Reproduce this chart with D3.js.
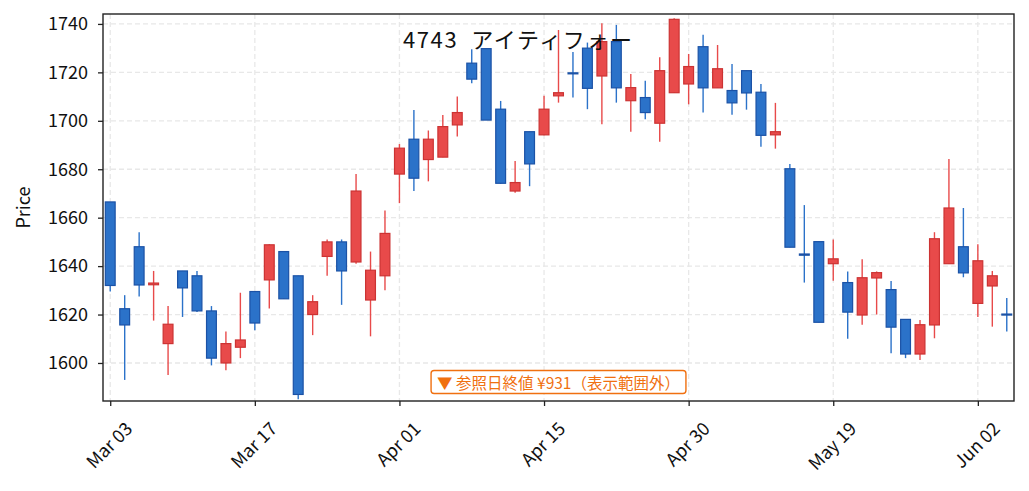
<!DOCTYPE html>
<html>
<head>
<meta charset="utf-8">
<script src="https://cdn.jsdelivr.net/npm/d3@7"></script>
<style>
  body { margin: 0; background: #fff; }
  text { font-family: "Noto Sans CJK JP", "Noto Sans", sans-serif; }
</style>
</head>
<body>
<script>
// trading days shown on the chart (index based x axis)
const dates = [
  "Mar 03", "Mar 04", "Mar 05", "Mar 06", "Mar 07", "Mar 10", "Mar 11", "Mar 12", "Mar 13", "Mar 14",
  "Mar 17", "Mar 18", "Mar 19", "Mar 21", "Mar 24", "Mar 25", "Mar 26", "Mar 27", "Mar 28", "Mar 31",
  "Apr 01", "Apr 02", "Apr 03", "Apr 04", "Apr 07", "Apr 08", "Apr 09", "Apr 10", "Apr 11", "Apr 14",
  "Apr 15", "Apr 16", "Apr 17", "Apr 18", "Apr 21", "Apr 22", "Apr 23", "Apr 24", "Apr 25", "Apr 28",
  "Apr 30", "May 01", "May 02", "May 07", "May 08", "May 09", "May 12", "May 13", "May 14", "May 15",
  "May 19", "May 20", "May 21", "May 22", "May 23", "May 26", "May 27", "May 28", "May 29", "May 30",
  "Jun 02", "Jun 03", "Jun 04"
];
const openP = [
  1666.5, 1622.4, 1648, 1632.3, 1608, 1638, 1636, 1621.5, 1600, 1606.5,
  1629.5, 1634.3, 1646, 1636, 1620, 1644, 1650, 1641.7, 1626, 1636,
  1678, 1692.4, 1684, 1685, 1698.3, 1723.8, 1729.8, 1704.8, 1671, 1695.5,
  1694.2, 1710.3, 1719.8, 1730, 1718.5, 1732.7, 1708.3, 1709.6, 1699, 1711.6,
  1715.2, 1730.6, 1713.6, 1712.5, 1720.7, 1711.8, 1694.2, 1680.2, 1645, 1650.1,
  1641, 1633.2, 1619.8, 1635.1, 1630.3, 1618, 1603.7, 1615.7, 1641, 1648,
  1624.6, 1631.8, 1620.2
];
const highP = [
  1666.5, 1628, 1654, 1638, 1623.5, 1638, 1638, 1623.5, 1613, 1629,
  1629.5, 1649, 1646, 1636, 1628, 1651, 1651, 1678, 1646, 1663,
  1690.4, 1704.5, 1696, 1702.4, 1710, 1729.5, 1729.8, 1708.2, 1683.4, 1695.5,
  1710.3, 1737.5, 1728.4, 1732.3, 1740.3, 1739.6, 1719.3, 1716.5, 1726.2, 1742.3,
  1727.6, 1735.5, 1731.3, 1723.5, 1720.7, 1715.2, 1707.4, 1682.2, 1665.2, 1650.1,
  1651, 1637.8, 1642.8, 1637.8, 1633.8, 1618, 1617.7, 1654, 1684.2, 1664,
  1649, 1638, 1626.8
];
const lowP = [
  1629.5, 1593, 1627.4, 1617.5, 1595, 1619, 1621, 1599, 1597, 1602,
  1613.5, 1622.5, 1626.5, 1585, 1611.5, 1636, 1624, 1641, 1611, 1630,
  1666, 1671, 1675, 1685, 1693.5, 1715.5, 1700.3, 1674, 1670.3, 1673,
  1694, 1707.5, 1709.6, 1704.8, 1698.6, 1707.5, 1695.5, 1700.6, 1691.4, 1711.6,
  1706.8, 1703.4, 1713.6, 1702.5, 1704.6, 1689.3, 1688.5, 1647.8, 1633.2, 1616.8,
  1634, 1610, 1615.8, 1620, 1604, 1602, 1601.2, 1610.2, 1641, 1635.4,
  1619, 1615, 1613
];
const closeP = [
  1632, 1615.7, 1632.2, 1633, 1616, 1631, 1621.5, 1602, 1608, 1609.5,
  1616.5, 1648.8, 1626.5, 1587, 1625.3, 1650, 1638, 1671, 1638.3, 1653.5,
  1688.7, 1676.3, 1692.4, 1697.6, 1703.4, 1717.2, 1700.3, 1674.2, 1674.5, 1682.2,
  1704.8, 1711.6, 1719.4, 1713.4, 1732.7, 1713.6, 1713.7, 1703.4, 1720.7, 1741.9,
  1722.4, 1713.6, 1721.5, 1707.4, 1711.5, 1694, 1695.5, 1647.8, 1644.5, 1616.8,
  1643, 1621, 1635.2, 1637.3, 1614.8, 1603.7, 1615.8, 1651.3, 1664, 1637.2,
  1642.2, 1636, 1619.8
];
const tickIdx = [0, 10, 20, 30, 40, 50, 60];
const yTicks = [1600, 1620, 1640, 1660, 1680, 1700, 1720, 1740];
const title = "4743  アイティフォー";
const note = "▼ 参照日終値 ¥931（表示範囲外）";

const width = 1029, height = 491;
const margin = { top: 14, right: 15, bottom: 90, left: 103 };
const iw = width - margin.left - margin.right;
const ih = height - margin.top - margin.bottom;

const upFill = "#e84a4a", upEdge = "#cc3333";
const downFill = "#2b72c9", downEdge = "#1b52a6";

const svg = d3.select("body").append("svg")
  .attr("width", width)
  .attr("height", height);

const g = svg.append("g")
  .attr("transform", `translate(${margin.left},${margin.top})`);

const x = d3.scaleLinear().domain([-0.5, 62.5]).range([0, iw]);
const y = d3.scaleLinear().domain([1584.3, 1744.1]).range([ih, 0]);

// dashed grid
g.append("g").selectAll("line.gy")
  .data(yTicks).enter().append("line")
  .attr("x1", 0).attr("x2", iw)
  .attr("y1", d => y(d)).attr("y2", d => y(d))
  .attr("stroke", "#e8e8e8").attr("stroke-width", 1.3)
  .attr("stroke-dasharray", "5,3");
g.append("g").selectAll("line.gx")
  .data(tickIdx).enter().append("line")
  .attr("x1", d => x(d)).attr("x2", d => x(d))
  .attr("y1", 0).attr("y2", ih)
  .attr("stroke", "#e8e8e8").attr("stroke-width", 1.3)
  .attr("stroke-dasharray", "5,3");

// candles
const candles = d3.range(dates.length).map(i => ({
  i, o: openP[i], h: highP[i], l: lowP[i], c: closeP[i]
}));
const bw = (x(1) - x(0)) * 0.68;

g.append("g").selectAll("line.wick")
  .data(candles).enter().append("line")
  .attr("x1", d => x(d.i)).attr("x2", d => x(d.i))
  .attr("y1", d => y(d.h)).attr("y2", d => y(d.l))
  .attr("stroke", d => d.c >= d.o ? upFill : downFill)
  .attr("stroke-width", 1.4);

g.append("g").selectAll("rect.body")
  .data(candles).enter().append("rect")
  .attr("x", d => x(d.i) - bw / 2)
  .attr("width", bw)
  .attr("y", d => y(Math.max(d.o, d.c)))
  .attr("height", d => Math.max(1, Math.abs(y(d.o) - y(d.c))))
  .attr("fill", d => d.c >= d.o ? upFill : downFill)
  .attr("stroke", d => d.c >= d.o ? upEdge : downEdge)
  .attr("stroke-width", 1.2);

// axes
const yAxis = g.append("g")
  .call(d3.axisLeft(y).tickValues(yTicks).tickSize(5).tickPadding(10).tickFormat(d3.format("d")));
const xAxis = g.append("g")
  .attr("transform", `translate(0,${ih})`)
  .call(d3.axisBottom(x).tickValues(tickIdx).tickSize(5).tickFormat(d => dates[d]));

[yAxis, xAxis].forEach(a => {
  a.select(".domain").remove();
  a.selectAll(".tick line").attr("stroke", "#222").attr("stroke-width", 1.3);
  a.selectAll(".tick text").attr("fill", "#111").style("font-size", "18px");
});

// rotated date labels, bbox centred under the tick
xAxis.selectAll(".tick text").each(function () {
  const t = d3.select(this);
  t.attr("y", 0).attr("dy", null)
    .attr("text-anchor", "middle")
    .attr("dominant-baseline", "central");
  const w = this.getComputedTextLength();
  const half = (w + 18) / (2 * Math.SQRT2);
  const cy = 17 + half;
  t.attr("transform", `translate(-2.5,${cy}) rotate(-45)`);
});

// frame
g.append("rect")
  .attr("width", iw).attr("height", ih)
  .attr("fill", "none").attr("stroke", "#222").attr("stroke-width", 1.4);

// y label
svg.append("text")
  .attr("transform", `translate(30,${margin.top + ih / 2}) rotate(-90)`)
  .attr("text-anchor", "middle")
  .style("font-size", "18px")
  .attr("fill", "#111")
  .text("Price");

// title
g.append("text")
  .attr("x", 300).attr("y", 34)
  .style("font-size", "22px")
  .style("letter-spacing", "1.6px")
  .style("white-space", "pre")
  .attr("fill", "#111")
  .text(title);

// out-of-range note
const nb = g.append("g").attr("transform", `translate(${iw / 2},${ih - 19})`);
const nt = nb.append("text")
  .attr("text-anchor", "middle")
  .attr("dominant-baseline", "central")
  .style("font-size", "15.5px")
  .attr("fill", "#f07010")
  .text(note);
const tw = nt.node().getComputedTextLength();
nb.insert("rect", "text")
  .attr("x", -tw / 2 - 6).attr("y", -11.5)
  .attr("width", tw + 12).attr("height", 23)
  .attr("rx", 3)
  .attr("fill", "#fff")
  .attr("stroke", "#f07010").attr("stroke-width", 1.4);
</script>
</body>
</html>
